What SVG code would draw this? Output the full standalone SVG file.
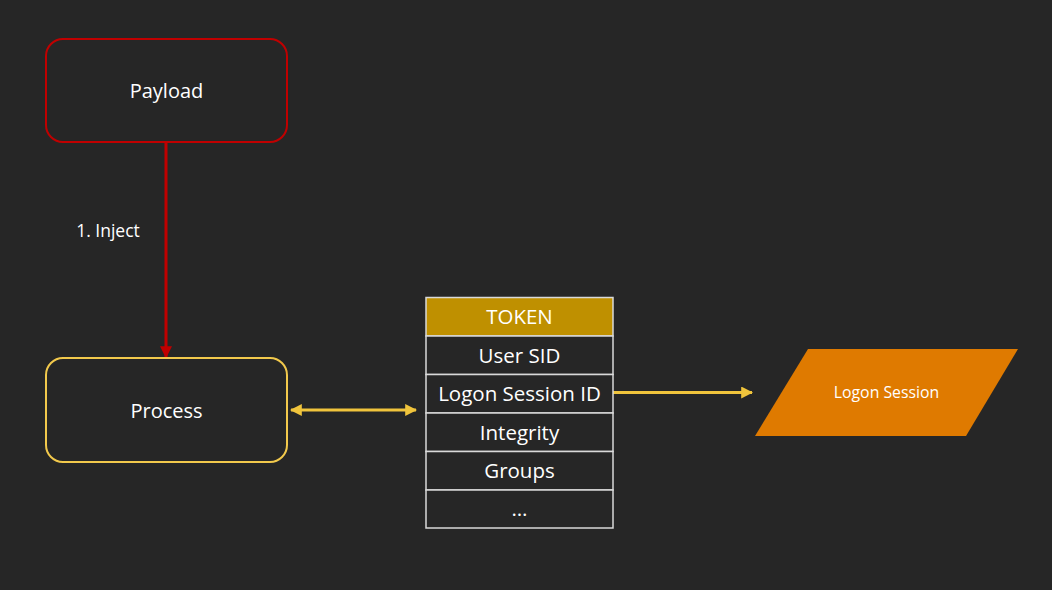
<svg xmlns="http://www.w3.org/2000/svg" width="1052" height="590" viewBox="0 0 1052 590">
<defs>
<style>
.t{font-family:"Open Sans","Liberation Sans",sans-serif;fill:#ffffff;text-anchor:middle;}
.cell{fill:#262626;stroke:#d9d9d9;stroke-width:1.5;}
</style>
<marker id="ar" viewBox="0 0 10 10" refX="9" refY="5" markerWidth="4" markerHeight="4" orient="auto-start-reverse" markerUnits="strokeWidth"><path d="M0,0 L10,5 L0,10 z" fill="#C00000"/></marker>
<marker id="ay" viewBox="0 0 10 10" refX="9" refY="5" markerWidth="4" markerHeight="4" orient="auto-start-reverse" markerUnits="strokeWidth"><path d="M0,0 L10,5 L0,10 z" fill="#F0C43C"/></marker>
</defs>
<rect width="1052" height="590" fill="#262626"/>
<g id="connectors">
<line x1="166" y1="143" x2="166" y2="357" stroke="#C00000" stroke-width="3" marker-end="url(#ar)"/>
<text class="t" x="108" y="237" font-size="17.5">1. Inject</text>
<line x1="291" y1="410" x2="416" y2="410" stroke="#F0C43C" stroke-width="3" marker-start="url(#ay)" marker-end="url(#ay)"/>
<line x1="613" y1="392.5" x2="752" y2="392.5" stroke="#F0C43C" stroke-width="3" marker-end="url(#ay)"/>
</g>
<g id="payload">
<rect x="46" y="39" width="241" height="103" rx="17" fill="#262626" stroke="#C00000" stroke-width="2"/>
<text class="t" x="166.5" y="98" font-size="20">Payload</text>
</g>
<g id="process">
<rect x="46" y="358" width="241" height="104" rx="17" fill="#262626" stroke="#F2C94C" stroke-width="2"/>
<text class="t" x="166.5" y="418" font-size="20">Process</text>
</g>
<g id="token">
<rect x="426" y="297.5" width="187" height="38.5" fill="#BF9000" stroke="#d9d9d9" stroke-width="1.5"/>
<rect class="cell" x="426" y="336" width="187" height="38.5"/>
<rect class="cell" x="426" y="374.5" width="187" height="38.5"/>
<rect class="cell" x="426" y="413" width="187" height="38.5"/>
<rect class="cell" x="426" y="451.5" width="187" height="38.5"/>
<rect class="cell" x="426" y="490" width="187" height="38"/>
<text class="t" x="519.5" y="324" font-size="20.5">TOKEN</text>
<text class="t" x="519.5" y="362.5" font-size="20.5">User SID</text>
<text class="t" x="519.5" y="401" font-size="20.5">Logon Session ID</text>
<text class="t" x="519.5" y="439.5" font-size="20.5">Integrity</text>
<text class="t" x="519.5" y="478" font-size="20.5">Groups</text>
<text class="t" x="519.5" y="516" font-size="20.5">…</text>
</g>
<g id="logon-session">
<polygon points="808,349 1018,349 966,436 755,436" fill="#DF7A00"/>
<text class="t" x="886.5" y="398" font-size="15.8">Logon Session</text>
</g>
</svg>
